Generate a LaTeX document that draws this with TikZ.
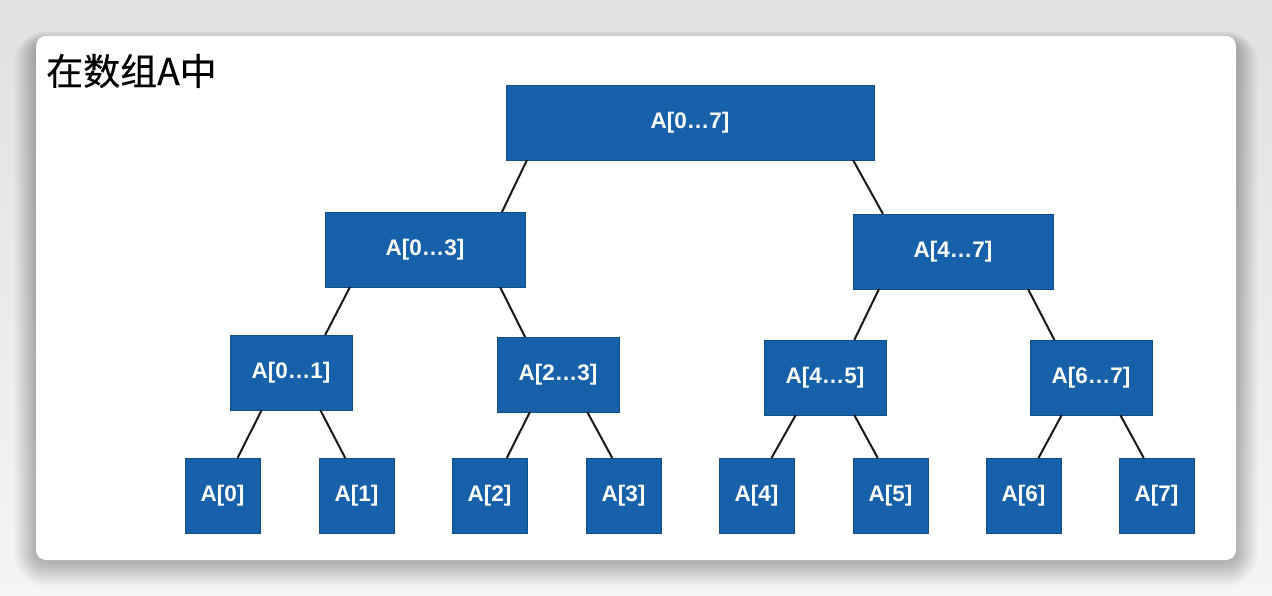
\documentclass[tikz,border=0pt]{standalone}
\usepackage{fontspec}
\setmainfont{Liberation Sans}
\newfontfamily\cjk[FakeBold=0.4]{Noto Sans CJK SC}
\usetikzlibrary{calc}
\definecolor{boxblue}{HTML}{1661A9}
\tikzset{
  nbox/.style={fill=boxblue, draw=boxblue!80!black, line width=0.6pt, text=white,
    font=\bfseries\fontsize{22.5}{22.5}\selectfont,
    inner sep=0pt, outer sep=0pt, minimum height=75pt},
  edge/.style={draw=black!90, line width=2pt},
}
\begin{document}
\begin{tikzpicture}[x=1pt,y=-1pt]
\useasboundingbox (0,0) rectangle (1272,596);
\shade[top color=black!12, bottom color=black!4] (0,0) rectangle (1272,596);
% soft card shadow
\foreach \k in {1,...,22}{
  \fill[black, opacity=0.012, rounded corners={10pt+\k pt}]
    (36-\k,36-0.5*\k+6) rectangle (1236+\k,560+1.1*\k+2);
}
\node[fill=white, rounded corners=10pt, minimum width=1200pt, minimum height=524pt, inner sep=0pt]
  (card) at (636,298) {};
\node[anchor=west, inner sep=0pt, font=\cjk\fontsize{37}{37}\selectfont] (title) at (46,71) {在数组A中};
% level 0
\node[nbox, minimum width=368pt] (r) at (690,122.5) {A[0…7]};
% level 1
\node[nbox, minimum width=200pt] (l) at (425,249.5) {A[0…3]};
\node[nbox, minimum width=200pt] (rr) at (953,251.5) {A[4…7]};
% level 2
\node[nbox, minimum width=122pt] (ll) at (291,372.5) {A[0…1]};
\node[nbox, minimum width=122pt] (lr) at (558,374.5) {A[2…3]};
\node[nbox, minimum width=122pt] (rl) at (825,377.5) {A[4…5]};
\node[nbox, minimum width=122pt] (rrr) at (1091,377.5) {A[6…7]};
% leaves
\foreach \i/\x in {0/222.5,1/356.5,2/489.5,3/623.5,4/756.5,5/890.5,6/1023.5,7/1156.5}{
  \node[nbox, minimum width=75pt] (a\i) at (\x,495.5) {A[\i]};
}
% edges
\newcommand{\tedge}[4]{\draw[edge] ($(#1.south west)!#2!(#1.south east)$) -- ($(#3.north west)!#4!(#3.north east)$);}
\tedge{r}{0.057}{l}{0.885}
\tedge{r}{0.943}{rr}{0.15}
\tedge{l}{0.125}{ll}{0.78}
\tedge{l}{0.875}{lr}{0.23}
\tedge{rr}{0.13}{rl}{0.74}
\tedge{rr}{0.875}{rrr}{0.2}
\tedge{ll}{0.26}{a0}{0.7}
\tedge{ll}{0.74}{a1}{0.35}
\tedge{lr}{0.27}{a2}{0.73}
\tedge{lr}{0.74}{a3}{0.35}
\tedge{rl}{0.26}{a4}{0.7}
\tedge{rl}{0.74}{a5}{0.33}
\tedge{rrr}{0.26}{a6}{0.7}
\tedge{rrr}{0.74}{a7}{0.33}
\end{tikzpicture}
\end{document}
